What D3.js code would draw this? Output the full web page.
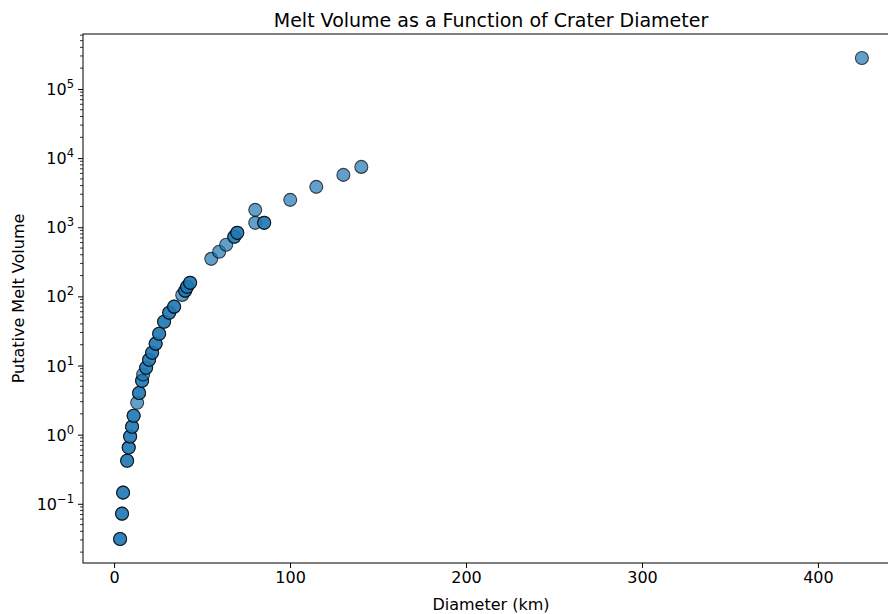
<!DOCTYPE html>
<html>
<head>
<meta charset="utf-8">
<script src="https://cdn.jsdelivr.net/npm/d3@7"></script>
<style>
  body { margin: 0; background: #fff; }
  text { font-family: "DejaVu Sans", sans-serif; fill: #000; }
</style>
</head>
<body>
<div id="chart"></div>
<script>
// crater diameter (km) and putative melt volume
// (darker points in the reference are overlapping duplicates)
var diameter = [3.4, 3.4, 4.5, 4.5, 5.1, 5.1, 7.4, 7.4, 8.3, 8.3, 9.1, 9.1,
    10.2, 10.2, 11.1, 11.1, 13.1, 14.2, 14.2, 15.9, 15.9, 16.5, 18.2, 18.2,
    19.9, 19.9, 21.6, 21.6, 23.6, 23.6, 25.6, 25.6, 28.4, 28.4, 31.3, 31.3,
    34.1, 34.1, 38.7, 40.4, 40.4, 41.5, 41.5, 43.2, 43.2, 55.2, 59.7, 63.7,
    68.3, 68.3, 70, 70, 80.2, 80.2, 85.3, 85.3, 100.1, 114.9, 130.3, 140.5, 425];
var volume = [0.031, 0.031, 0.072, 0.072, 0.145, 0.145, 0.42, 0.42, 0.65, 0.65, 0.94, 0.94,
    1.3, 1.3, 1.88, 1.88, 2.9, 4.0, 4.0, 6.0, 6.0, 7.4, 9.3, 9.3,
    12.1, 12.1, 15.3, 15.3, 20.7, 20.7, 28.8, 28.8, 43, 43, 58, 58,
    71, 71, 105, 121, 121, 138, 138, 157, 157, 349, 441, 557,
    727, 727, 830, 830, 1783, 1158, 1158, 1158, 2488, 3837, 5718, 7460, 280000];

var xTicks = [0, 100, 200, 300, 400];
var yTickExp = [-1, 0, 1, 2, 3, 4, 5];

var width = 888, height = 614;
var margin = {top: 34, right: -11, bottom: 51, left: 83};

var svg = d3.select("#chart").append("svg")
    .attr("width", width)
    .attr("height", height);

var points = diameter.map(function(d, i){ return {d: d, v: volume[i]}; });

// matplotlib style 5% margins
var xExt = d3.extent(diameter);
var xPad = (xExt[1] - xExt[0]) * 0.05;
var lExt = d3.extent(volume).map(Math.log10);
var lPad = (lExt[1] - lExt[0]) * 0.05;

var x = d3.scaleLinear()
    .domain([xExt[0] - xPad, xExt[1] + xPad])
    .range([margin.left, width - margin.right]);

var y = d3.scaleLog()
    .domain([Math.pow(10, lExt[0] - lPad), Math.pow(10, lExt[1] + lPad)])
    .range([height - margin.bottom, margin.top]);

// points
svg.append("g").selectAll("circle")
    .data(points)
    .enter().append("circle")
    .attr("cx", function(p){ return x(p.d); })
    .attr("cy", function(p){ return y(p.v); })
    .attr("r", 6.5)
    .attr("fill", "#1f77b4")
    .attr("fill-opacity", 0.7)
    .attr("stroke", "#000")
    .attr("stroke-opacity", 0.7)
    .attr("stroke-width", 1.1);

// x axis
var xAxis = d3.axisBottom(x)
    .tickValues(xTicks)
    .tickSize(5)
    .tickPadding(4)
    .tickFormat(d3.format("d"));

var gx = svg.append("g")
    .attr("transform", "translate(0," + (height - margin.bottom) + ")")
    .call(xAxis);
gx.select(".domain").remove();
gx.selectAll("text").style("font-size", "16px").style("font-family", "DejaVu Sans");

// y axis, major ticks with superscript labels
var yMajor = yTickExp.map(function(e){ return Math.pow(10, e); });
var yAxis = d3.axisLeft(y)
    .tickValues(yMajor)
    .tickSize(5)
    .tickFormat("");
var gy = svg.append("g")
    .attr("transform", "translate(" + margin.left + ",0)")
    .call(yAxis);
gy.select(".domain").remove();

// minor log ticks (2..9 in each decade)
var dom = y.domain();
var yMinor = [];
for (var e = -2; e <= 5; e++) {
    for (var k = 2; k <= 9; k++) {
        var val = k * Math.pow(10, e);
        if (val >= dom[0] && val <= dom[1]) yMinor.push(val);
    }
}
svg.append("g").selectAll("line")
    .data(yMinor)
    .enter().append("line")
    .attr("x1", margin.left - 3)
    .attr("x2", margin.left)
    .attr("y1", function(t){ return y(t); })
    .attr("y2", function(t){ return y(t); })
    .attr("stroke", "#000")
    .attr("stroke-width", 0.8);

var yLab = svg.append("g").selectAll("text")
    .data(yTickExp)
    .enter().append("text")
    .attr("x", margin.left - 9)
    .attr("y", function(e){ return y(Math.pow(10, e)) + 6; })
    .attr("text-anchor", "end")
    .style("font-size", "16px");
yLab.append("tspan").text("10");
yLab.append("tspan")
    .attr("dy", -7)
    .style("font-size", "11.5px")
    .text(function(e){ return e < 0 ? "\u2212" + (-e) : e; });

// frame
svg.append("rect")
    .attr("x", margin.left)
    .attr("y", margin.top)
    .attr("width", width - margin.right - margin.left)
    .attr("height", height - margin.bottom - margin.top)
    .attr("fill", "none")
    .attr("stroke", "#000")
    .attr("stroke-width", 1);

// title and axis labels
var cx = (margin.left + width - margin.right) / 2;
svg.append("text")
    .attr("x", cx)
    .attr("y", 27)
    .attr("text-anchor", "middle")
    .style("font-size", "19px")
    .text("Melt Volume as a Function of Crater Diameter");

svg.append("text")
    .attr("x", cx)
    .attr("y", 610)
    .attr("text-anchor", "middle")
    .style("font-size", "16px")
    .text("Diameter (km)");

svg.append("text")
    .attr("transform", "translate(24," + ((margin.top + height - margin.bottom) / 2) + ") rotate(-90)")
    .attr("text-anchor", "middle")
    .style("font-size", "16px")
    .text("Putative Melt Volume");
</script>
</body>
</html>
